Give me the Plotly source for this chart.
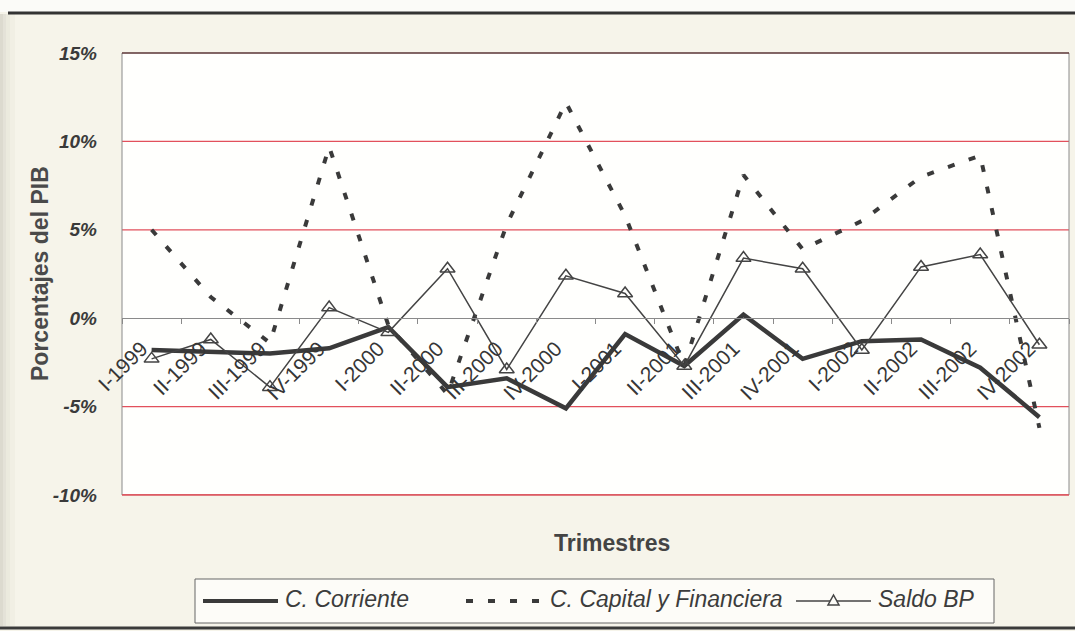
import plotly.graph_objects as go

# Quarterly balance-of-payments components, % of GDP
quarters = [
    "I-1999", "II-1999", "III-1999", "IV-1999",
    "I-2000", "II-2000", "III-2000", "IV-2000",
    "I-2001", "II-2001", "III-2001", "IV-2001",
    "I-2002", "II-2002", "III-2002", "IV-2002",
]
corriente = [-1.8, -1.9, -2.0, -1.7, -0.5, -3.9, -3.4, -5.1,
             -0.9, -2.7, 0.2, -2.3, -1.3, -1.2, -2.8, -5.6]
capital = [5.0, 1.2, -1.4, 9.7, -0.4, -4.3, 5.3, 12.2,
           5.8, -2.7, 8.1, 3.9, 5.5, 8.0, 9.2, -6.2]
saldo = [-2.3, -1.2, -3.9, 0.6, -0.8, 2.8, -2.9, 2.4,
         1.4, -2.7, 3.4, 2.8, -1.8, 2.9, 3.6, -1.5]

y_ticks = [-10, -5, 0, 5, 10, 15]
y_tick_text = ["-10%", "-5%", "0%", "5%", "10%", "15%"]
grid_levels = [-10, -5, 5, 10]

series_names = ["C. Corriente", "C. Capital y Financiera", "Saldo BP"]

# plot-area geometry (pixels) used to place decorations in paper units
L, R, T, B = 122, 1069, 53, 495
W, H = R - L, B - T


def px(xp):
    return (xp - L) / W


def py(yp):
    return (B - yp) / H


DARK = "#3a3a3a"
TXT = "#3c3c3c"
FONT = "Liberation Sans, Arial, sans-serif"
NARROW = "Liberation Sans Narrow, Arial Narrow, Liberation Sans, Arial, sans-serif"
DASH = "7px,15px"

fig = go.Figure()

fig.add_trace(go.Scatter(
    x=quarters, y=capital, mode="lines", name=series_names[1],
    line=dict(color=DARK, width=4, dash=DASH),
))
fig.add_trace(go.Scatter(
    x=quarters, y=corriente, mode="lines", name=series_names[0],
    line=dict(color=DARK, width=4.5),
))
fig.add_trace(go.Scatter(
    x=quarters, y=saldo, mode="lines+markers", name=series_names[2],
    line=dict(color="#444444", width=1.5),
    marker=dict(symbol="triangle-up-open", size=13, color="#444444",
                line=dict(width=1.5, color="#444444")),
))

shapes = []
# red horizontal gridlines
for g in grid_levels:
    shapes.append(dict(type="line", xref="paper", yref="y", x0=0, x1=1, y0=g, y1=g,
                       line=dict(color="#e2505c", width=1.3), layer="below"))
# plot frame
shapes.append(dict(type="line", xref="paper", yref="paper", x0=0, x1=0, y0=0, y1=1,
                   line=dict(color="#8a8a8a", width=1), layer="below"))
shapes.append(dict(type="line", xref="paper", yref="paper", x0=1, x1=1, y0=0, y1=1,
                   line=dict(color="#8a8a8a", width=1), layer="below"))
shapes.append(dict(type="line", xref="paper", yref="paper", x0=0, x1=1, y0=1, y1=1,
                   line=dict(color="#5a3434", width=1.5), layer="below"))
shapes.append(dict(type="line", xref="paper", yref="paper", x0=0, x1=1, y0=0, y1=0,
                   line=dict(color="#d8505a", width=1.3), layer="below"))

# page rules at top and bottom
shapes.append(dict(type="line", xref="paper", yref="paper", x0=px(8), x1=px(1075),
                   y0=py(13), y1=py(13), line=dict(color="#333333", width=3)))
shapes.append(dict(type="rect", xref="paper", yref="paper", x0=px(0), x1=px(1075),
                   y0=py(12), y1=py(0), line=dict(width=0), fillcolor="#fbfbf8", layer="below"))
shapes.append(dict(type="line", xref="paper", yref="paper", x0=px(0), x1=px(1075),
                   y0=py(628), y1=py(628), line=dict(color="#3a3a3a", width=3)))
# soft shading along the left page edge
for x0, x1, op in [(0, 3, 0.22), (3, 6, 0.15), (6, 10, 0.09), (10, 15, 0.04)]:
    shapes.append(dict(type="rect", xref="paper", yref="paper", x0=px(x0), x1=px(x1),
                       y0=py(626), y1=py(14), line=dict(width=0),
                       fillcolor="#808070", opacity=op, layer="below"))

# legend box and samples
lg_y = py(601)
shapes.append(dict(type="rect", xref="paper", yref="paper", x0=px(195), x1=px(994),
                   y0=py(623), y1=py(579), line=dict(color="#666666", width=1),
                   fillcolor="#fdfcf8", layer="below"))
shapes.append(dict(type="line", xref="paper", yref="paper", x0=px(203), x1=px(278),
                   y0=lg_y, y1=lg_y, line=dict(color=DARK, width=4)))
shapes.append(dict(type="line", xref="paper", yref="paper", x0=px(466), x1=px(543),
                   y0=lg_y, y1=lg_y, line=dict(color=DARK, width=4, dash=DASH)))
shapes.append(dict(type="line", xref="paper", yref="paper", x0=px(796), x1=px(871),
                   y0=lg_y, y1=lg_y, line=dict(color="#444444", width=1.5)))
tri_cx, tri_cy = 833.5, 601
shapes.append(dict(
    type="path", xref="paper", yref="paper",
    path=(f"M {px(tri_cx - 5.5)} {py(tri_cy + 4)} L {px(tri_cx + 5.5)} {py(tri_cy + 4)} "
          f"L {px(tri_cx)} {py(tri_cy - 6)} Z"),
    line=dict(color="#444444", width=1.5), fillcolor="#fdfcf8",
))

annotations = [
    dict(text="Porcentajes del PIB", xref="paper", yref="paper", x=px(40), y=0.5,
         textangle=-90, showarrow=False, xanchor="center", yanchor="middle",
         font=dict(family=FONT, size=23, color="#4a4a4a", weight="bold")),
    dict(text="Trimestres", xref="paper", yref="paper", x=px(612), y=py(543),
         showarrow=False, xanchor="center", yanchor="middle",
         font=dict(family=FONT, size=23, color="#444444", weight="bold")),
]
for name, xs in zip(series_names, [283, 548, 876]):
    annotations.append(dict(text=name, xref="paper", yref="paper", x=px(xs), y=py(599),
                            showarrow=False, xanchor="left", yanchor="middle",
                            font=dict(family=FONT, size=23, color=TXT, style="italic")))

fig.update_layout(
    width=1075, height=631,
    margin=dict(l=L, r=1075 - R, t=T, b=631 - B),
    paper_bgcolor="#f6f4ea",
    plot_bgcolor="#fffffd",
    showlegend=False,
    shapes=shapes,
    annotations=annotations,
    xaxis=dict(
        type="category", categoryorder="array", categoryarray=quarters,
        range=[-0.5, len(quarters) - 0.5],
        anchor="free", position=0.4,
        showline=True, linecolor="#8a8a8a", linewidth=1,
        ticks="outside", tickson="boundaries", ticklen=5, tickcolor="#8a8a8a",
        tickangle=-45,
        ticklabelstandoff=9, ticklabelshift=-10,
        tickfont=dict(family=FONT, size=21, color="#363636"),
        showgrid=False, zeroline=False,
    ),
    yaxis=dict(
        range=[-10, 15], tickvals=y_ticks, ticktext=y_tick_text,
        showgrid=False, zeroline=False, showline=False, ticks="",
        ticklabelstandoff=24,
        tickfont=dict(family=NARROW, size=19, color="#3a3a3a",
                      weight="bold", style="italic"),
    ),
)

fig.write_html("out.html")
